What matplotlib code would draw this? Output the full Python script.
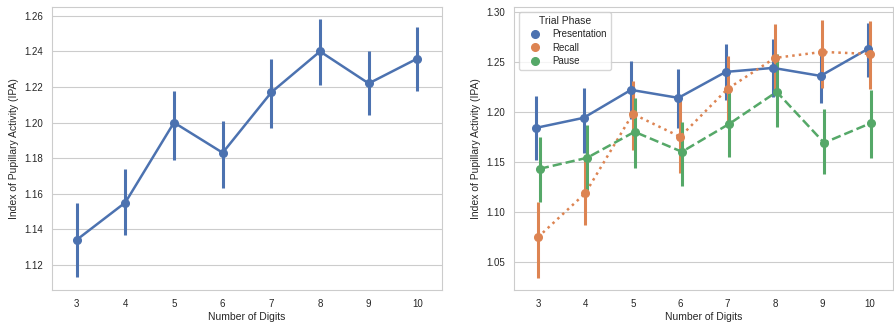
import matplotlib

matplotlib.use("Agg")
import matplotlib.pyplot as plt
import seaborn as sns

digits = [3, 4, 5, 6, 7, 8, 9, 10]

# left panel: all phases pooled
overall_mean = [1.134, 1.155, 1.200, 1.183, 1.217, 1.240, 1.222, 1.236]
overall_lo = [1.113, 1.137, 1.179, 1.163, 1.197, 1.221, 1.204, 1.218]
overall_hi = [1.155, 1.174, 1.218, 1.201, 1.236, 1.258, 1.240, 1.254]

# right panel: by trial phase
phases = ["Presentation", "Recall", "Pause"]
pres_mean = [1.184, 1.194, 1.222, 1.214, 1.240, 1.244, 1.236, 1.263]
pres_lo = [1.152, 1.159, 1.193, 1.184, 1.212, 1.215, 1.209, 1.235]
pres_hi = [1.216, 1.224, 1.251, 1.243, 1.268, 1.273, 1.263, 1.289]
recall_mean = [1.0745, 1.1186, 1.198, 1.175, 1.223, 1.254, 1.260, 1.258]
recall_lo = [1.0335, 1.087, 1.162, 1.139, 1.185, 1.222, 1.224, 1.223]
recall_hi = [1.110, 1.152, 1.231, 1.212, 1.256, 1.288, 1.292, 1.291]
pause_mean = [1.143, 1.154, 1.180, 1.160, 1.188, 1.220, 1.169, 1.189]
pause_lo = [1.110, 1.119, 1.144, 1.126, 1.155, 1.185, 1.138, 1.154]
pause_hi = [1.175, 1.187, 1.214, 1.190, 1.222, 1.258, 1.203, 1.222]

sns.set_style("whitegrid")
plt.rcParams["font.family"] = ["Liberation Sans", "DejaVu Sans"]
plt.rcParams["font.size"] = 7.5

colors = sns.color_palette("deep")
LW = 1.8
MS = 5.5


def draw(ax, x, mean, lo, hi, color, ls, label=None):
    ax.vlines(x, lo, hi, color=color, lw=LW + 0.4, zorder=2)
    ax.plot(x, mean, color=color, ls=ls, lw=LW, marker="o", ms=MS,
            zorder=3, label=label)


fig = plt.figure(figsize=(8.94, 3.25), dpi=100)
ax1 = fig.add_axes([0.0585, 0.1077, 0.4356, 0.8708])
ax2 = fig.add_axes([0.5753, 0.1077, 0.424, 0.8708])

pos = list(range(len(digits)))
draw(ax1, pos, overall_mean, overall_lo, overall_hi, colors[0], "-")
ax1.set_ylim(1.1058, 1.265)

series = [
    (pres_mean, pres_lo, pres_hi, colors[0], "-"),
    (recall_mean, recall_lo, recall_hi, colors[1], ":"),
    (pause_mean, pause_lo, pause_hi, colors[2], "--"),
]
offsets = [-0.0375, 0.0, 0.0375]
handles = []
for (m, lo, hi, c, ls), off, name in zip(series, offsets, phases):
    xs = [p + off for p in pos]
    draw(ax2, xs, m, lo, hi, c, ls)
    handles.append(plt.Line2D([], [], color=c, marker="o", ls="", ms=MS, label=name))
ax2.set_ylim(1.0216, 1.305)
ax2.set_yticks([1.05, 1.10, 1.15, 1.20, 1.25, 1.30])
leg = ax2.legend(handles=handles, title="Trial Phase", loc="upper left",
                 fontsize=7, title_fontsize=7.5, frameon=True,
                 handlelength=2.4, handletextpad=0.6, labelspacing=0.35)

for ax in (ax1, ax2):
    ax.set_xticks(pos)
    ax.set_xticklabels([str(d) for d in digits])
    ax.set_xlim(-0.5, len(digits) - 0.5)
    ax.set_xlabel("Number of Digits", labelpad=2)
    ax.set_ylabel("Index of Pupillary Activity (IPA)")
    ax.tick_params(labelsize=7, pad=3)
    ax.grid(axis="x", visible=False)

fig.savefig("out.png", dpi=100)
